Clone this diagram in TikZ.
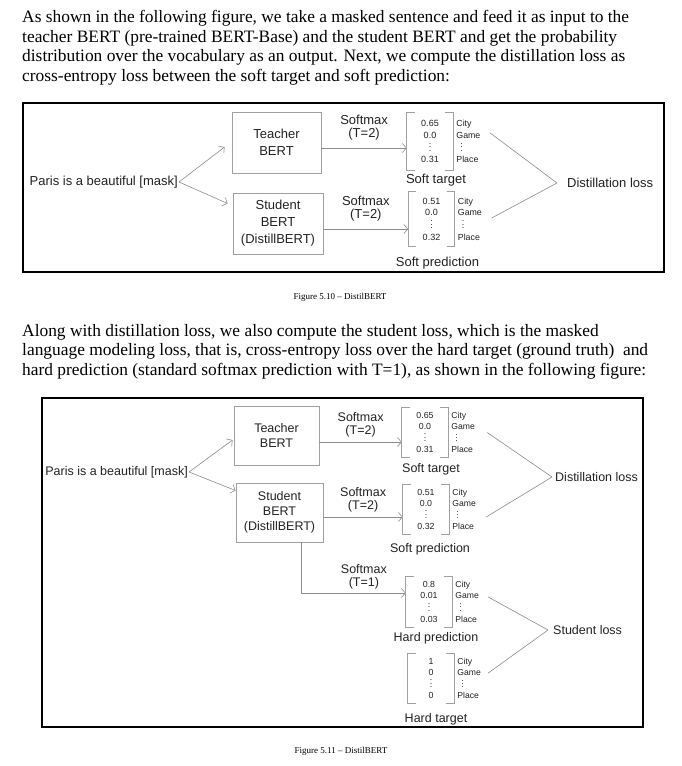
\documentclass[tikz,border=0pt]{standalone}
\usepackage{fontspec}
\setmainfont{Liberation Serif}
\setsansfont{Liberation Sans}
\usetikzlibrary{arrows.meta,positioning,calc}
\definecolor{linegray}{HTML}{8C8C8C}
\definecolor{boxgray}{HTML}{A0A0A0}
\definecolor{inkgray}{HTML}{222222}
\newcommand{\vd}{\vbox{\baselineskip3.4pt\lineskiplimit0pt\lineskip0pt\hbox{.}\hbox{.}\hbox{.}}}
\newcommand{\vals}[3]{#1\\#2\\[1.5pt]\vd\\#3}
\newcommand{\vocab}{City\\Game\\[1.5pt]\hspace*{4pt}\vd\\Place}

\begin{document}
\begin{tikzpicture}[
  x=1pt, y=-1pt,
  para/.style={anchor=base west, align=left, inner sep=0pt,
    font=\fontsize{17.4}{19.4}\selectfont},
  caption/.style={inner sep=0pt, font=\fontsize{9}{10}\selectfont},
  frame/.style={draw=black, line width=1.6pt},
  box/.style={draw=boxgray, line width=0.8pt, align=center, text=inkgray,
    font=\sffamily\fontsize{13}{17}\selectfont},
  lbl/.style={align=center, text=inkgray, inner sep=1pt,
    font=\sffamily\fontsize{13}{13}\selectfont},
  vec/.style={minimum width=46pt, inner sep=0pt, align=center, text=inkgray,
    font=\sffamily\fontsize{9}{11.5}\selectfont},
  words/.style={right=3pt of #1, align=left, inner sep=0pt, text=inkgray,
    font=\sffamily\fontsize{8.8}{11.5}\selectfont},
  bline/.style={draw=boxgray, line width=0.8pt},
  conn/.style={draw=linegray, line width=0.6pt},
  arrow/.style={conn, -{Straight Barb[length=4pt,width=9pt]}}
]
  \fill[white] (0,0) rectangle (682,766);
  \useasboundingbox (0,0) rectangle (682,766);

  % Text
  \node[para] (para1) at (22,81) {As shown in the following figure, we take a masked sentence and feed it as input to the\\
    teacher BERT (pre-trained BERT-Base) and the student BERT and get the probability\\
    distribution over the vocabulary as an output. Next, we compute the distillation loss as\\
    cross-entropy loss between the soft target and soft prediction:};
  \node[caption] (cap1) at (340,297) {Figure 5.10 -- DistilBERT};
  \node[para] (para2) at (22,375) {Along with distillation loss, we also compute the student loss, which is the masked\\
    language modeling loss, that is, cross-entropy loss over the hard target (ground truth)\ \ and\\
    hard prediction (standard softmax prediction with T=1), as shown in the following figure:};
  \node[caption] (cap2) at (341,751) {Figure 5.11 -- DistilBERT};

  % Figure 5.10
  \draw[frame] (23,103) rectangle (664,272);
  \node[lbl, anchor=east] (paris1) at (179,182) {Paris is a beautiful [mask]};
  \node[box, minimum width=89pt, minimum height=61pt] (teacher1) at (276.5,142.5) {Teacher\\BERT};
  \node[box, minimum width=90pt, minimum height=61pt] (student1) at (278,223.5) {Student\\BERT\\(DistillBERT)};
  \node[vec, minimum height=57pt] (tv1) at (430,141.5) {\vals{0.65}{0.0}{0.31}};
  \node[words=tv1] (tw1) {\vocab};
  \node[lbl, below=3pt of tv1, xshift=6pt] (tcap1) {Soft target};
  \node[vec, minimum height=54pt] (pv1) at (431.5,219) {\vals{0.51}{0.0}{0.32}};
  \node[words=pv1] (pw1) {\vocab};
  \node[lbl, below=10pt of pv1, xshift=6pt] (pcap1) {Soft prediction};
  \node[lbl, anchor=west] (dloss1) at (566,183) {Distillation loss};

  \draw[arrow] (paris1.east) -- ([xshift=-7pt,yshift=-4.5pt]teacher1.west);
  \draw[arrow] (paris1.east) -- ([xshift=-5pt,yshift=20pt]student1.west);
  \coordinate (t1) at ([yshift=-5.5pt]teacher1.east);
  \draw[arrow] (t1) -- node[lbl, above=7pt] (tsm1) {Softmax\\(T=2)} (t1 -| tv1.west);
  \coordinate (s1) at ([yshift=-5.5pt]student1.east);
  \draw[arrow] (s1) -- node[lbl, above=7pt] (ssm1) {Softmax\\(T=2)} (s1 -| pv1.west);
  \draw[conn] ([xshift=37pt,yshift=8.5pt]tv1.east) -- ([xshift=-9pt]dloss1.west);
  \draw[conn] ([xshift=37pt,yshift=1pt]pv1.east) -- ([xshift=-9pt]dloss1.west);

  % Figure 5.11
  \begin{scope}[
    box/.append style={font=\sffamily\fontsize{12.5}{15}\selectfont},
    lbl/.append style={font=\sffamily\fontsize{12.5}{12.5}\selectfont},
    vec/.append style={font=\sffamily\fontsize{8.8}{11}\selectfont},
    words/.append style={font=\sffamily\fontsize{8.6}{11}\selectfont}]
  \draw[frame] (42,398) rectangle (643,727);
  \node[lbl, anchor=east] (paris2) at (189,472) {Paris is a beautiful [mask]};
  \node[box, minimum width=85pt, minimum height=59pt] (teacher2) at (276.5,435.5) {Teacher\\BERT};
  \node[box, minimum width=87pt, minimum height=59pt] (student2) at (279.5,512.5) {Student\\BERT\\(DistillBERT)};
  \node[vec, minimum height=49pt] (tv2) at (425,432.5) {\vals{0.65}{0.0}{0.31}};
  \node[words=tv2] (tw2) {\vocab};
  \node[lbl, below=5pt of tv2, xshift=6pt] (tcap2) {Soft target};
  \node[vec, minimum height=49pt] (pv2) at (426,509.5) {\vals{0.51}{0.0}{0.32}};
  \node[words=pv2] (pw2) {\vocab};
  \node[lbl, below=8pt of pv2, xshift=4pt] (pcap2) {Soft prediction};
  \node[lbl, anchor=west] (dloss2) at (554,477) {Distillation loss};
  \node[vec, minimum height=50pt] (hv) at (429,602) {\vals{0.8}{0.01}{0.03}};
  \node[words=hv] (hw) {\vocab};
  \node[lbl, below=4pt of hv, xshift=7pt] (hcap) {Hard prediction};
  \node[vec, minimum height=49pt] (gv) at (431,678.5) {\vals{1}{0}{0}};
  \node[words=gv] (gw) {\vocab};
  \node[lbl, below=9pt of gv, xshift=5pt] (gcap) {Hard target};
  \node[lbl, anchor=west] (sloss) at (552,630) {Student loss};

  \draw[arrow] (paris2.east) -- ([xshift=-1pt,yshift=-4.5pt]teacher2.west);
  \draw[arrow] (paris2.east) -- ([yshift=22pt]student2.west);
  \coordinate (t2) at ([yshift=-6.5pt]teacher2.east);
  \draw[arrow] (t2) -- node[lbl, above=4pt] (tsm2) {Softmax\\(T=2)} (t2 -| tv2.west);
  \coordinate (s2) at ([yshift=-4.5pt]student2.east);
  \draw[arrow] (s2) -- node[lbl, above=4pt] (ssm2) {Softmax\\(T=2)} (s2 -| pv2.west);
  \coordinate (s3) at ([xshift=21.5pt]student2.south);
  \draw[arrow] (s3) |- node[lbl, pos=0.8, above=3pt] (hsm) {Softmax\\(T=1)} ([yshift=9pt]hv.west);
  \draw[conn] ([xshift=39pt]tv2.east) -- ([xshift=-2pt]dloss2.west);
  \draw[conn] ([xshift=37pt,yshift=-7.5pt]pv2.east) -- ([xshift=-2pt]dloss2.west);
  \draw[conn] ([xshift=36pt,yshift=5pt]hv.east) -- ([xshift=-4pt]sloss.west);
  \draw[conn] ([xshift=34pt,yshift=5.5pt]gv.east) -- ([xshift=-4pt]sloss.west);
  \end{scope}

  % Brackets
  \foreach \v in {tv1,pv1,tv2,pv2,hv,gv} {
    \draw[bline] ([xshift=8pt]\v.north west) -- (\v.north west) -- (\v.south west) -- ([xshift=8pt]\v.south west);
    \draw[bline] ([xshift=-8pt]\v.north east) -- (\v.north east) -- (\v.south east) -- ([xshift=-8pt]\v.south east);
  }
\end{tikzpicture}
\end{document}
